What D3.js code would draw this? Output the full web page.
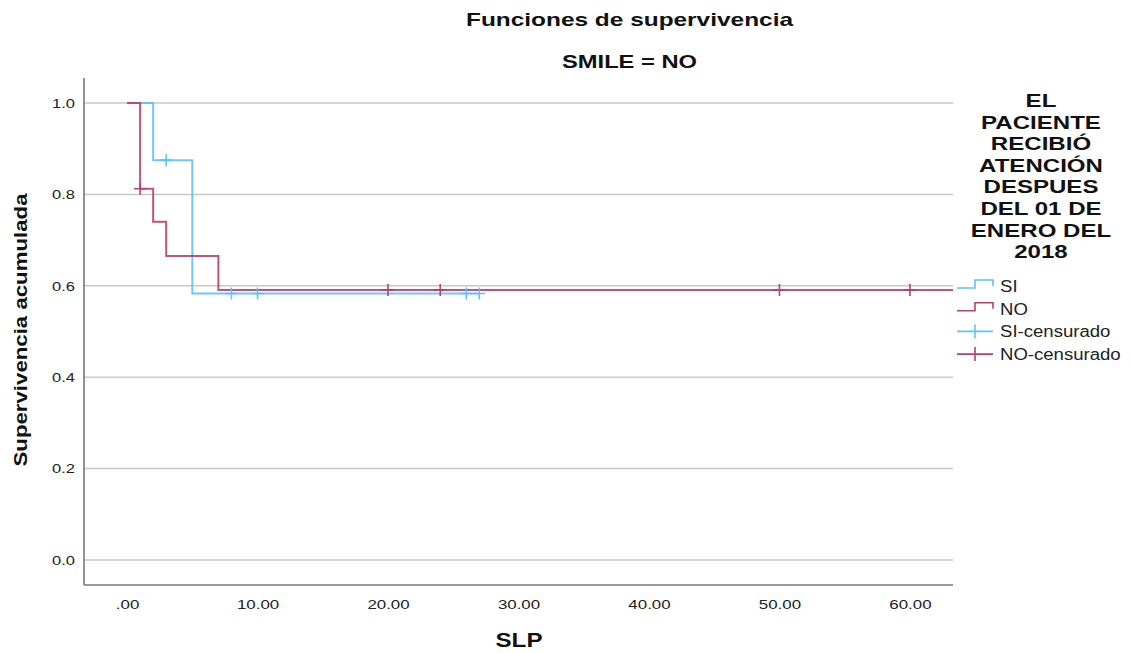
<!DOCTYPE html>
<html>
<head>
<meta charset="utf-8">
<script src="https://cdn.jsdelivr.net/npm/d3@7"></script>
<style>
  body { margin: 0; background: #fff; }
  text { font-family: "Liberation Sans", Arial, sans-serif; }
</style>
</head>
<body>
<svg id="chart" width="1131" height="653"></svg>
<script>
// survival step data (time, cumulative survival)
const siSteps = [[0, 1.0], [2, 0.875], [5, 0.583], [27, 0.583]];
const noSteps = [[0, 1.0], [1, 0.8125], [2, 0.74], [3, 0.665], [7, 0.591], [63.3, 0.591]];
const siCensored = [[3, 0.875], [8, 0.583], [10, 0.583], [26, 0.583], [27, 0.583]];
const noCensored = [[1, 0.8125], [20, 0.591], [24, 0.591], [50, 0.591], [60, 0.591]];
const xTicks = [0, 10, 20, 30, 40, 50, 60];
const xTickLabels = [".00", "10.00", "20.00", "30.00", "40.00", "50.00", "60.00"];
const yTicks = [0, 0.2, 0.4, 0.6, 0.8, 1.0];
const legendTitle = ["EL", "PACIENTE", "RECIBIÓ", "ATENCIÓN", "DESPUES", "DEL 01 DE", "ENERO DEL", "2018"];
const legendItems = ["SI", "NO", "SI-censurado", "NO-censurado"];

const blue = "#5ec1fb", red = "#b3426f";

const svg = d3.select("#chart");
const plot = {left: 84, right: 953, top: 78, bottom: 585};

const x = d3.scaleLinear().domain([-3.3, 63.3]).range([plot.left, plot.right]);
const y = d3.scaleLinear().domain([0, 1]).range([560, 103]);

// the reference font is drawn wider than Liberation Sans
function stretch(sel, k) {
  sel.each(function () {
    const w = this.getComputedTextLength();
    d3.select(this).attr("textLength", w * k).attr("lengthAdjust", "spacingAndGlyphs");
  });
}

// gridlines
svg.append("g")
  .selectAll("line")
  .data(yTicks)
  .join("line")
  .attr("x1", plot.left).attr("x2", plot.right)
  .attr("y1", d => y(d)).attr("y2", d => y(d))
  .attr("stroke", "#c8c8c8").attr("stroke-width", 1.5);

// axes
const yAxis = d3.axisLeft(y).tickValues(yTicks).tickFormat(d3.format(".1f")).tickSize(0).tickPadding(9);
const gy = svg.append("g").attr("transform", `translate(${plot.left},0)`).call(yAxis);
gy.select(".domain").remove();
gy.selectAll("text").attr("font-size", 13.5).attr("fill", "#222").attr("font-family", "Liberation Sans").call(stretch, 1.22);

const xAxis = d3.axisBottom(x).tickValues(xTicks).tickFormat((d, i) => xTickLabels[i]).tickSize(0).tickPadding(14);
const gx = svg.append("g").attr("transform", `translate(0,${plot.bottom})`).call(xAxis);
gx.select(".domain").remove();
gx.selectAll("text").attr("font-size", 13.5).attr("fill", "#222").attr("font-family", "Liberation Sans").call(stretch, 1.25);

svg.append("line")
  .attr("x1", plot.left).attr("x2", plot.left)
  .attr("y1", plot.top).attr("y2", plot.bottom)
  .attr("stroke", "#777").attr("stroke-width", 1.6);
svg.append("line")
  .attr("x1", plot.left).attr("x2", plot.right)
  .attr("y1", plot.bottom).attr("y2", plot.bottom)
  .attr("stroke", "#777").attr("stroke-width", 1.6);

// step curves
const line = d3.line().x(d => x(d[0])).y(d => y(d[1])).curve(d3.curveStepAfter);

function drawCurve(steps, color) {
  svg.append("path")
    .datum(steps)
    .attr("d", line)
    .attr("fill", "none")
    .attr("stroke", color)
    .attr("stroke-width", 2)
    .attr("stroke-opacity", 0.9);
}
function drawCensor(points, color) {
  svg.append("g")
    .selectAll("path")
    .data(points)
    .join("path")
    .attr("d", d => `M${x(d[0]) - 6},${y(d[1])}H${x(d[0]) + 6}M${x(d[0])},${y(d[1]) - 6}V${y(d[1]) + 6}`)
    .attr("stroke", color)
    .attr("stroke-width", 1.6)
    .attr("fill", "none");
}
drawCurve(siSteps, blue);
drawCurve(noSteps, red);
drawCensor(siCensored, blue);
drawCensor(noCensored, red);

// titles
svg.append("text").attr("x", 629.5).attr("y", 26).attr("text-anchor", "middle")
  .attr("font-size", 19).attr("font-weight", "bold").attr("fill", "#111")
  .text("Funciones de supervivencia").attr("textLength", 327).attr("lengthAdjust", "spacingAndGlyphs");
svg.append("text").attr("x", 629.5).attr("y", 68).attr("text-anchor", "middle")
  .attr("font-size", 19).attr("font-weight", "bold").attr("fill", "#111")
  .text("SMILE = NO").attr("textLength", 135).attr("lengthAdjust", "spacingAndGlyphs");
svg.append("text").attr("x", 519).attr("y", 647).attr("text-anchor", "middle")
  .attr("font-size", 21).attr("font-weight", "bold").attr("fill", "#111")
  .text("SLP").attr("textLength", 47).attr("lengthAdjust", "spacingAndGlyphs");
svg.append("text").attr("transform", "translate(27,330) rotate(-90)").attr("text-anchor", "middle")
  .attr("font-size", 19).attr("font-weight", "bold").attr("fill", "#111")
  .text("Supervivencia acumulada").attr("textLength", 273).attr("lengthAdjust", "spacingAndGlyphs");

// legend title, tight leading like the reference
svg.append("g")
  .selectAll("text")
  .data(legendTitle)
  .join("text")
  .attr("x", 1041)
  .attr("y", (d, i) => 107 + i * 21.6)
  .attr("text-anchor", "middle")
  .attr("font-size", 18.5)
  .attr("font-weight", "bold")
  .attr("fill", "#111")
  .text(d => d)
  .call(stretch, 1.3);

const legendColors = [blue, red, blue, red];
const lg = svg.append("g")
  .selectAll("g")
  .data(legendItems)
  .join("g")
  .attr("transform", (d, i) => `translate(957,${292 + i * 22.7})`);

lg.each(function (d, i) {
  const g = d3.select(this);
  if (i < 2) {
    g.append("path").attr("d", "M0,-4H18V-12H36V-6")
      .attr("fill", "none").attr("stroke", legendColors[i]).attr("stroke-width", 1.6);
  } else {
    g.append("path").attr("d", "M0,-6H36M18,-13V1")
      .attr("fill", "none").attr("stroke", legendColors[i]).attr("stroke-width", 1.6);
  }
  g.append("text").attr("x", 43).attr("y", 0).attr("font-size", 16).attr("fill", "#222").text(d)
    .call(stretch, 1.16);
});
</script>
</body>
</html>
